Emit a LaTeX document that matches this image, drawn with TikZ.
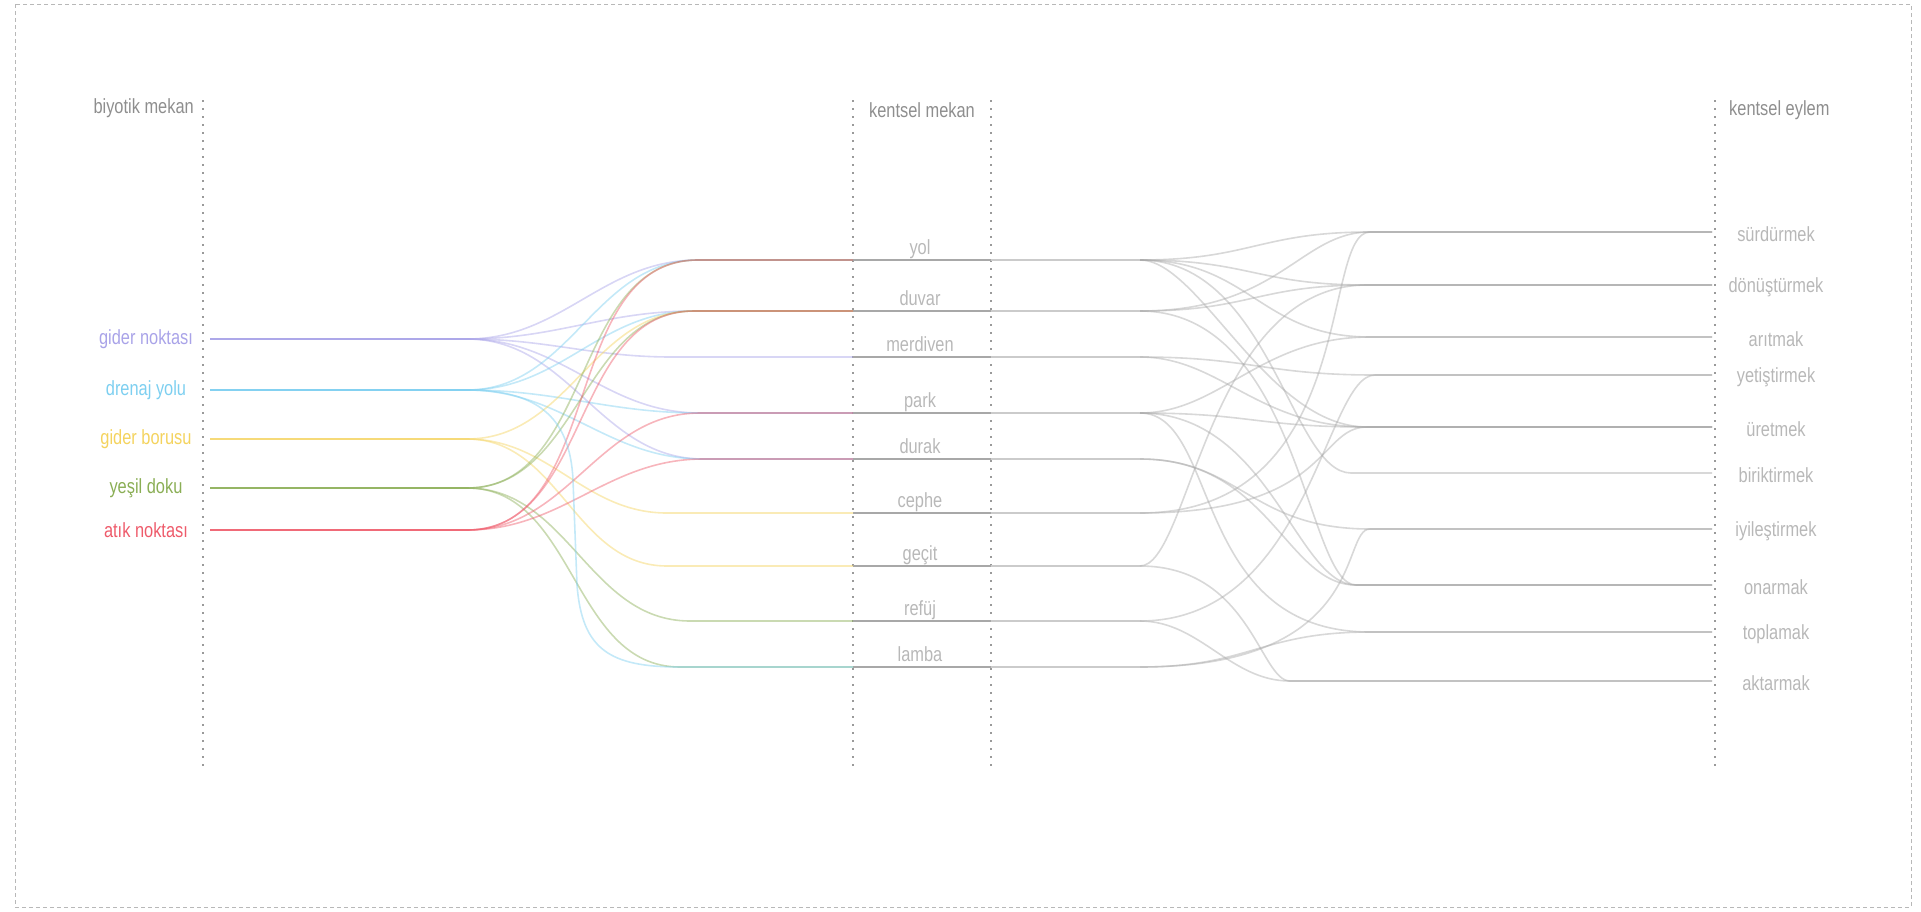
\documentclass[tikz,border=0pt]{standalone}
\usepackage{fontspec}
\setmainfont{Liberation Sans}[FakeStretch=0.8]
\usetikzlibrary{calc}

\definecolor{gn}{HTML}{A9A3E8}
\definecolor{dy}{HTML}{7DCFF0}
\definecolor{gb}{HTML}{F4D35E}
\definecolor{yd}{HTML}{8AAE55}
\definecolor{an}{HTML}{EE5B6B}
\definecolor{headgray}{HTML}{8E8E8E}
\definecolor{itemgray}{HTML}{B8B8B8}
\definecolor{dotgray}{HTML}{9A9A9A}
\definecolor{linkgray}{HTML}{A8A8A8}

\begin{document}
\begin{tikzpicture}[x=1pt, y=-1pt,
  lbl/.style={font=\fontsize{20.5}{24}\selectfont, inner sep=0pt},
  head/.style={lbl, text=headgray},
  item/.style={lbl, text=itemgray},
  guide/.style={draw=dotgray, line width=1.5pt, dash pattern=on 1.5pt off 6.5pt},
  link/.style={line width=1.6pt, opacity=0.45},
  glink/.style={link, draw=linkgray}
]
\useasboundingbox (0,0) rectangle (1921,911);
\draw[dotgray!70, line width=1pt, dash pattern=on 4pt off 3pt] (15,4) rectangle (1911,907);

% column guides
\foreach \x in {203,853,991,1715}
  \draw[guide] (\x,100) -- (\x,769);
\node[head, anchor=east] (hbio) at (194,108) {biyotik mekan};
\node[head] (hken) at (922,110) {kentsel mekan};
\node[head, anchor=west] (heyl) at (1729,110) {kentsel eylem};

% biyotik mekan
\foreach \n/\y/\t in {gn/339/gider noktası, dy/390/drenaj yolu, gb/439/gider borusu,
                      yd/488/yeşil doku, an/530/atık noktası} {
  \node[lbl, text=\n] (\n L) at (146,\y) {\t};
  \coordinate (\n S) at (210,\y);
  \coordinate (\n F) at (467,\y);
}

% kentsel mekan
\foreach \n/\y/\xs/\t in {yol/260/698/yol, duv/311/694/duvar, mer/357/672/merdiven,
                          park/413/700/park, dur/459/703/durak, cep/513/667/cephe,
                          gec/566/667/geçit, ref/621/690/refüj, lam/667/680/lamba} {
  \node[item, anchor=base] (\n L) at (920,\y-6) {\t};
  \coordinate (\n T) at (\xs,\y);
  \coordinate (\n M) at (853,\y);
  \coordinate (\n N) at (991,\y);
  \coordinate (\n F) at (1140,\y);
  \draw[linkgray!60, line width=1.6pt] (\n M) -- (\n F);
  \draw[linkgray, line width=1.6pt] (\n M) -- (\n N);
}

% kentsel eylem
\foreach \n/\y/\xs/\t in {sur/232/1370/sürdürmek, don/285/1367/dönüştürmek,
                          ari/337/1370/arıtmak, yet/375/1375/yetiştirmek,
                          ure/427/1367/üretmek, bir/473/1351/biriktirmek,
                          iyi/529/1370/iyileştirmek, ona/585/1356/onarmak,
                          top/632/1370/toplamak, akt/681/1290/aktarmak} {
  \node[item] (\n L) at (1776,\y+2) {\t};
  \coordinate (\n T) at (\xs,\y);
  \coordinate (\n E) at (1712,\y);
}

% biyotik -> kentsel mekan
\foreach \s/\t in {gn/yol, gn/duv, gn/mer, gn/park, gn/dur,
                   dy/yol, dy/duv, dy/park, dy/dur,
                   gb/duv, gb/cep, gb/gec,
                   yd/yol, yd/duv, yd/ref, yd/lam,
                   an/yol, an/duv, an/park, an/dur}
  \draw[link, draw=\s] (\s S) -- (\s F) to[out=0, in=180] (\t T) -- (\t M);
\draw[link, draw=dy] (dyS) -- (dyF) .. controls (535,390) and (570,415) .. (573,480)
  -- (577,585) .. controls (582,650) and (610,667) .. (lamT) -- (lamM);

% kentsel mekan -> kentsel eylem (out / in control lengths)
\foreach \s/\t/\a/\b in {yol/sur/110/110, yol/don/110/110, yol/ari/110/110,
                         yol/ure/60/100, yol/bir/130/60,
                         duv/sur/140/70, duv/don/110/110, duv/ona/160/50,
                         mer/yet/110/110, mer/ure/80/110,
                         park/ari/80/110, park/ure/110/110, park/top/80/180,
                         park/ona/130/60,
                         dur/iyi/100/120, dur/ona/130/70,
                         cep/sur/220/50, cep/ure/190/50,
                         gec/don/50/160, gec/akt/110/30,
                         ref/yet/170/50, ref/akt/60/60,
                         lam/iyi/230/30, lam/top/110/110}
  \draw[glink] (\s F) .. controls +(\a,0) and +(-\b,0) .. (\t T) -- (\t E);
\end{tikzpicture}
\end{document}
